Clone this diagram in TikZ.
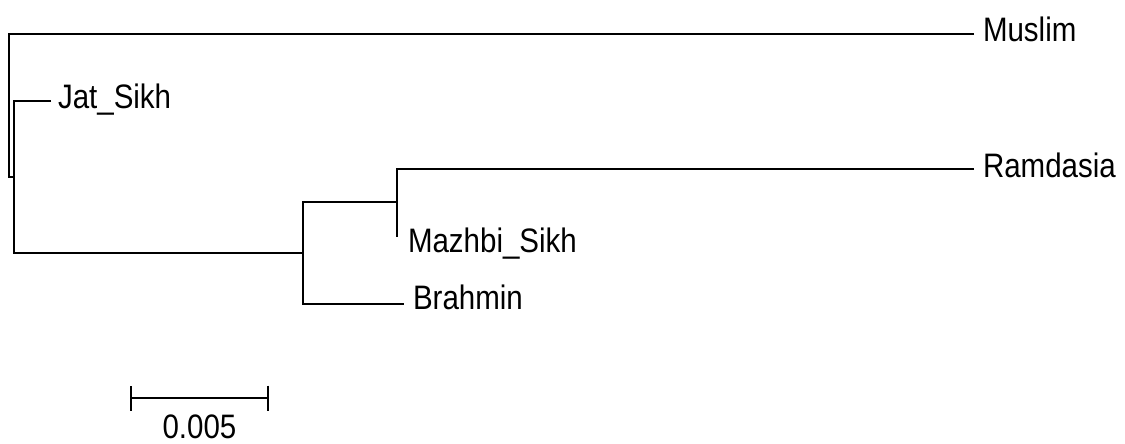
\documentclass[tikz,border=0pt]{standalone}
\usepackage{fontspec}
\setmainfont{Liberation Sans}
\usetikzlibrary{arrows.meta,calc}

\newcommand{\tall}[1]{\scalebox{1}[1.15]{#1}}

\begin{document}
\begin{tikzpicture}[
        x=1pt, y=1pt,
        font=\fontsize{29.5}{30}\selectfont,
        branch/.style={line width=2pt, line join=miter},
        taxon/.style={anchor=base west, inner sep=0pt, outer sep=0pt}
    ]
        \useasboundingbox (0,0) rectangle (1125,-444);

        % internal nodes
        \coordinate (n0) at (9,-177);
        \coordinate (n1) at (14,-177);
        \coordinate (n2) at (303,-253);
        \coordinate (n3) at (397,-202);

        % branch tips
        \coordinate (muslim)   at (974,-34);
        \coordinate (jatsikh)  at (51,-101);
        \coordinate (ramdasia) at (974,-169);
        \coordinate (mazhbi)   at (397,-237);
        \coordinate (brahmin)  at (404,-304);

        \node[taxon] (muslim label)   at ([xshift=9pt,yshift=-8pt]muslim)    {\tall{Muslim}};
        \node[taxon] (jatsikh label)  at ([xshift=7pt,yshift=-7pt]jatsikh)   {\tall{Jat\_Sikh}};
        \node[taxon] (ramdasia label) at ([xshift=9pt,yshift=-8pt]ramdasia)  {\tall{Ramdasia}};
        \node[taxon] (mazhbi label)   at ([xshift=11pt,yshift=-15pt]mazhbi)  {\tall{Mazhbi\_Sikh}};
        \node[taxon] (brahmin label)  at ([xshift=9pt,yshift=-5pt]brahmin)   {\tall{Brahmin}};

        \draw[branch] (muslim) -| (n0) -- (n1);
        \draw[branch] (jatsikh) -| (n1) |- (n2);
        \draw[branch] (n3) -| (n2) |- (brahmin);
        \draw[branch] (ramdasia) -| (n3) |- (mazhbi);

        % scale bar
        \coordinate (bar left)  at (130,-398);
        \coordinate (bar right) at (269,-398);
        \draw[branch, {Bar[width=25pt,line width=2pt]}-{Bar[width=25pt,line width=2pt]}] (bar left) -- (bar right);
        \node[anchor=base, inner sep=0pt] (bar label) at ([yshift=-40pt]$(bar left)!0.5!(bar right)$) {\tall{0.005}};
    \end{tikzpicture}
\end{document}
